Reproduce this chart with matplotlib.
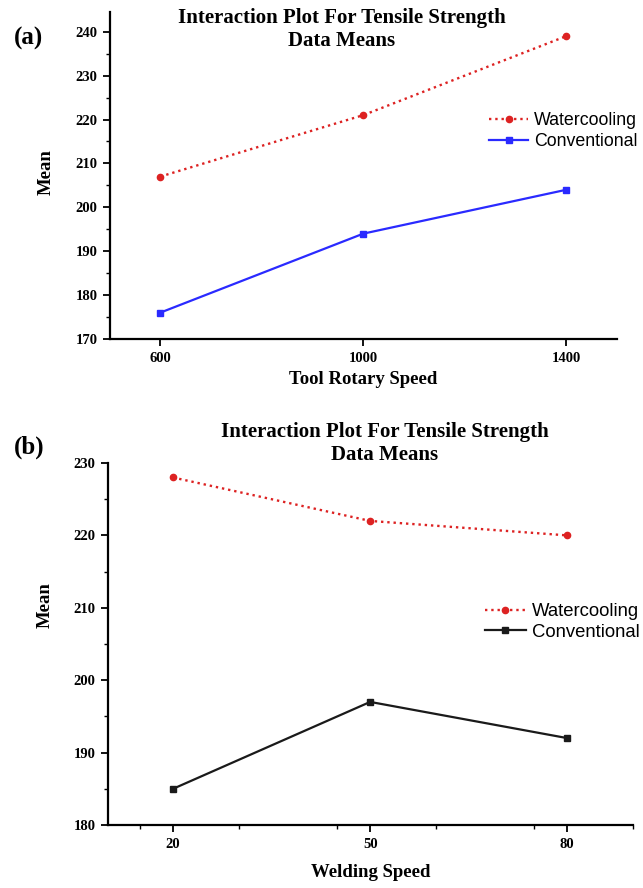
import matplotlib.pyplot as plt
from matplotlib.ticker import MultipleLocator

# Panel (a) data
rotary_speed = [600, 1000, 1400]
water_a = [207, 221, 239]
conv_a = [176, 194, 204]

# Panel (b) data
welding_speed = [20, 50, 80]
water_b = [228, 222, 220]
conv_b = [185, 197, 192]

title = 'Interaction Plot For Tensile Strength\nData Means'
serif = 'Liberation Serif'
sans = 'Liberation Sans'
W, H = 643, 888


def style_axes(ax):
    ax.spines['top'].set_visible(False)
    ax.spines['right'].set_visible(False)
    ax.spines['left'].set_linewidth(1.6)
    ax.spines['bottom'].set_linewidth(1.6)
    ax.tick_params(direction='out', width=1.3, length=5, labelsize=10.5, pad=4)
    ax.tick_params(which='minor', direction='out', width=1.0, length=3)
    for lab in ax.get_xticklabels() + ax.get_yticklabels():
        lab.set_fontfamily(serif)
        lab.set_fontweight('bold')


def add_legend(fig, ax, x, y, size):
    ax.legend(loc='center left', bbox_to_anchor=(x / W, 1 - y / H),
              bbox_transform=fig.transFigure, frameon=False,
              prop={'family': sans, 'size': size}, handlelength=2.2,
              handletextpad=0.35, labelspacing=0.2, borderpad=0,
              borderaxespad=0)


def main():
    fig = plt.figure(figsize=(W / 100, H / 100), dpi=100)
    lab_kw = dict(fontfamily=serif, fontweight='bold', fontsize=13.5)

    # Panel (a)
    ax1 = fig.add_axes([110 / W, 1 - 339 / H, 507 / W, 327 / H])
    ax1.plot(rotary_speed, water_a, ':', color='#dd2222', lw=1.7,
             marker='o', ms=4.5, label='Watercooling')
    ax1.plot(rotary_speed, conv_a, '-', color='#2a2aff', lw=1.6,
             marker='s', ms=4, label='Conventional')
    ax1.set_xlim(501, 1500)
    ax1.set_ylim(170, 244.5)
    ax1.set_xticks(rotary_speed)
    ax1.yaxis.set_major_locator(MultipleLocator(10))
    ax1.yaxis.set_minor_locator(MultipleLocator(5))
    style_axes(ax1)
    ax1.set_xlabel('Tool Rotary Speed', **lab_kw)
    ax1.xaxis.set_label_coords(0.5, -0.098)
    ax1.set_ylabel('Mean', **lab_kw)
    ax1.yaxis.set_label_coords(-0.110, 0.511)
    add_legend(fig, ax1, 489, 131, 12.8)
    fig.text(342 / W, 1 - 29.5 / H, title, ha='center', va='center',
             fontfamily=serif, fontweight='bold', fontsize=15,
             linespacing=1.2)
    fig.text(14 / W, 1 - 38 / H, '(a)', fontfamily=serif, fontweight='bold',
             fontsize=18, va='center')

    # Panel (b)
    ax2 = fig.add_axes([108 / W, 1 - 825 / H, 525 / W, 362 / H])
    ax2.plot(welding_speed, water_b, ':', color='#dd2222', lw=1.7,
             marker='o', ms=4.5, label='Watercooling')
    ax2.plot(welding_speed, conv_b, '-', color='#1a1a1a', lw=1.6,
             marker='s', ms=4, label='Conventional')
    ax2.set_xlim(10.1, 90)
    ax2.set_ylim(180, 230)
    ax2.set_xticks(welding_speed)
    ax2.xaxis.set_minor_locator(MultipleLocator(15))
    ax2.yaxis.set_major_locator(MultipleLocator(10))
    ax2.yaxis.set_minor_locator(MultipleLocator(5))
    style_axes(ax2)
    ax2.set_xlabel('Welding Speed', **lab_kw)
    ax2.xaxis.set_label_coords(0.5, -0.108)
    ax2.set_ylabel('Mean', **lab_kw)
    ax2.yaxis.set_label_coords(-0.103, 0.608)
    add_legend(fig, ax2, 485, 622, 13.3)
    fig.text(385 / W, 1 - 443.5 / H, title, ha='center', va='center',
             fontfamily=serif, fontweight='bold', fontsize=15,
             linespacing=1.2)
    fig.text(14 / W, 1 - 447 / H, '(b)', fontfamily=serif, fontweight='bold',
             fontsize=18, va='center')

    fig.savefig('out.png', dpi=100)


if __name__ == "__main__": main()
